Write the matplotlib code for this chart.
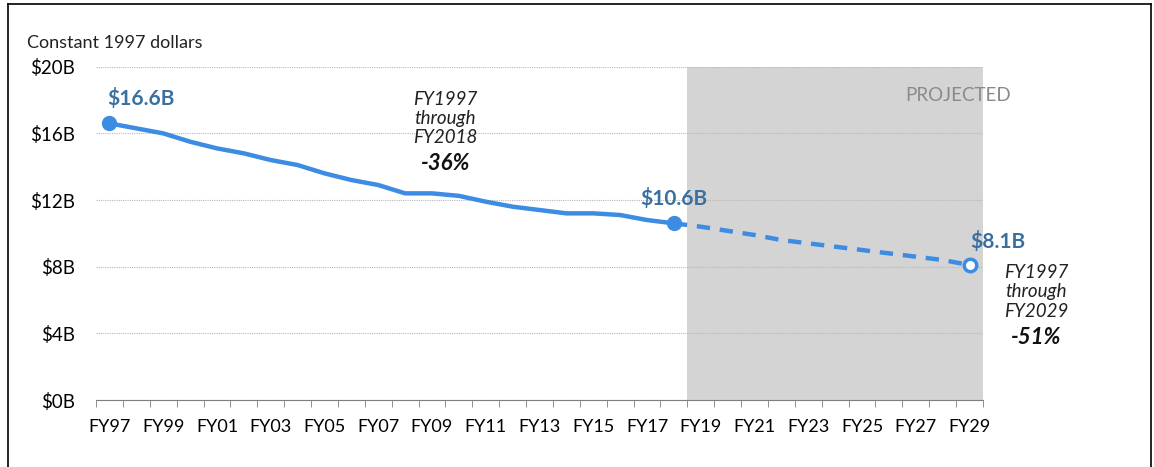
import numpy as np
import matplotlib.pyplot as plt
from matplotlib.lines import Line2D

plt.rcParams['font.family'] = ['Lato', 'DejaVu Sans']

# data
years = list(range(1997, 2030))
labels = ["FY%02d" % (y % 100) for y in years]
actual = [16.6, 16.3, 16.0, 15.5, 15.1, 14.8, 14.4, 14.1, 13.6, 13.2, 12.9,
          12.4, 12.4, 12.25, 11.9, 11.6, 11.4, 11.2, 11.2, 11.1, 10.8, 10.6]
projected = [10.6, 10.4, 10.15, 9.9, 9.6, 9.4, 9.2, 9.0, 8.8, 8.6, 8.4, 8.1]
yticks = [0, 4, 8, 12, 16, 20]
ytick_labels = ["$%dB" % v for v in yticks]

blue = '#3d8ce3'
label_blue = '#3a70a0'

fig = plt.figure(figsize=(11.54, 4.67), dpi=100)
ax = fig.add_axes([96 / 1154, 1 - 400 / 467, (983 - 96) / 1154, (400 - 66.7) / 467])

x_act = np.arange(len(actual))
x_proj = np.arange(len(actual) - 1, len(actual) - 1 + len(projected))

# projected shading
ax.axvspan(len(actual) - 0.5, len(years) - 0.5, ymin=0, ymax=1, color='#d4d4d4', zorder=0, lw=0)

ax.plot(x_act, actual, color=blue, lw=3.2, solid_capstyle='round', zorder=3)
ax.plot(x_proj, projected, color=blue, lw=3.2, ls=(0, (3, 2.2)), zorder=3)
ax.plot([x_act[0], x_act[-1]], [actual[0], actual[-1]], 'o', color=blue, ms=10, zorder=4)
ax.plot(x_proj[-1], projected[-1], 'o', mfc='white', mec=blue, mew=2.5, ms=9, zorder=4)

ax.set_xlim(-0.5, len(years) - 0.5)
ax.set_ylim(0, 20)
ax.set_yticks(yticks)
ax.set_yticklabels(ytick_labels, fontsize=13.5)
ax.yaxis.grid(True, color='#b8b8b8', ls=(0, (1, 1)), lw=0.8, zorder=1)
ax.set_axisbelow(False)
ax.tick_params(axis='y', length=0, pad=15)

ax.set_xticks(np.arange(0, len(years), 2))
ax.set_xticklabels(labels[::2], fontsize=13)
ax.set_xticks(np.arange(-0.5, len(years), 1), minor=True)
ax.tick_params(axis='x', which='major', length=0, pad=14)
ax.tick_params(axis='x', which='minor', length=5, color='#7f7f7f', direction='out')

for s in ['top', 'right', 'left']:
    ax.spines[s].set_visible(False)
ax.spines['bottom'].set_color('#7f7f7f')

# data labels
ax.annotate("$%.1fB" % actual[0], (x_act[0], actual[0]), xytext=(23, 18), textcoords='offset points',
            ha='center', va='center', fontsize=15, fontweight='bold', color=label_blue)
ax.annotate("$%.1fB" % actual[-1], (x_act[-1], actual[-1]), xytext=(0, 18), textcoords='offset points',
            ha='center', va='center', fontsize=15, fontweight='bold', color=label_blue)
ax.annotate("$%.1fB" % projected[-1], (x_proj[-1], projected[-1]), xytext=(20, 17), textcoords='offset points',
            ha='center', va='center', fontsize=15, fontweight='bold', color=label_blue)

ax.text(12.5, 16.9, "FY1997\nthrough\nFY2018", ha='center', va='center', fontsize=13.5,
        style='italic', color='#222222', linespacing=1.15)
ax.text(12.5, 14.2, "-36%", ha='center', va='center', fontsize=16, style='italic',
        fontweight='bold', color='#111111')
ax.text(31.57, 18.3, "PROJECTED", ha='center', va='center', fontsize=13.5, color='#8a8a8a')

fig.text(1036 / 1154, 1 - 292 / 467, "FY1997\nthrough\nFY2029", ha='center', va='center',
         fontsize=13.5, style='italic', color='#222222', linespacing=1.15)
fig.text(1036 / 1154, 1 - 338 / 467, "-51%", ha='center', va='center', fontsize=16,
         style='italic', fontweight='bold', color='#111111')

fig.text(27 / 1154, 1 - 43 / 467, "Constant 1997 dollars", ha='left', va='center', fontsize=13,
         color='#222222')

# frame around the chart
fig.add_artist(Line2D([8 / 1154, 8 / 1154], [0, 1 - 4 / 467], color='black', lw=1.2))
fig.add_artist(Line2D([8 / 1154, 1151 / 1154], [1 - 4 / 467, 1 - 4 / 467], color='black', lw=1.2))
fig.add_artist(Line2D([1151 / 1154, 1151 / 1154], [0, 1 - 4 / 467], color='black', lw=1.2))

fig.savefig('out.png', dpi=100)
